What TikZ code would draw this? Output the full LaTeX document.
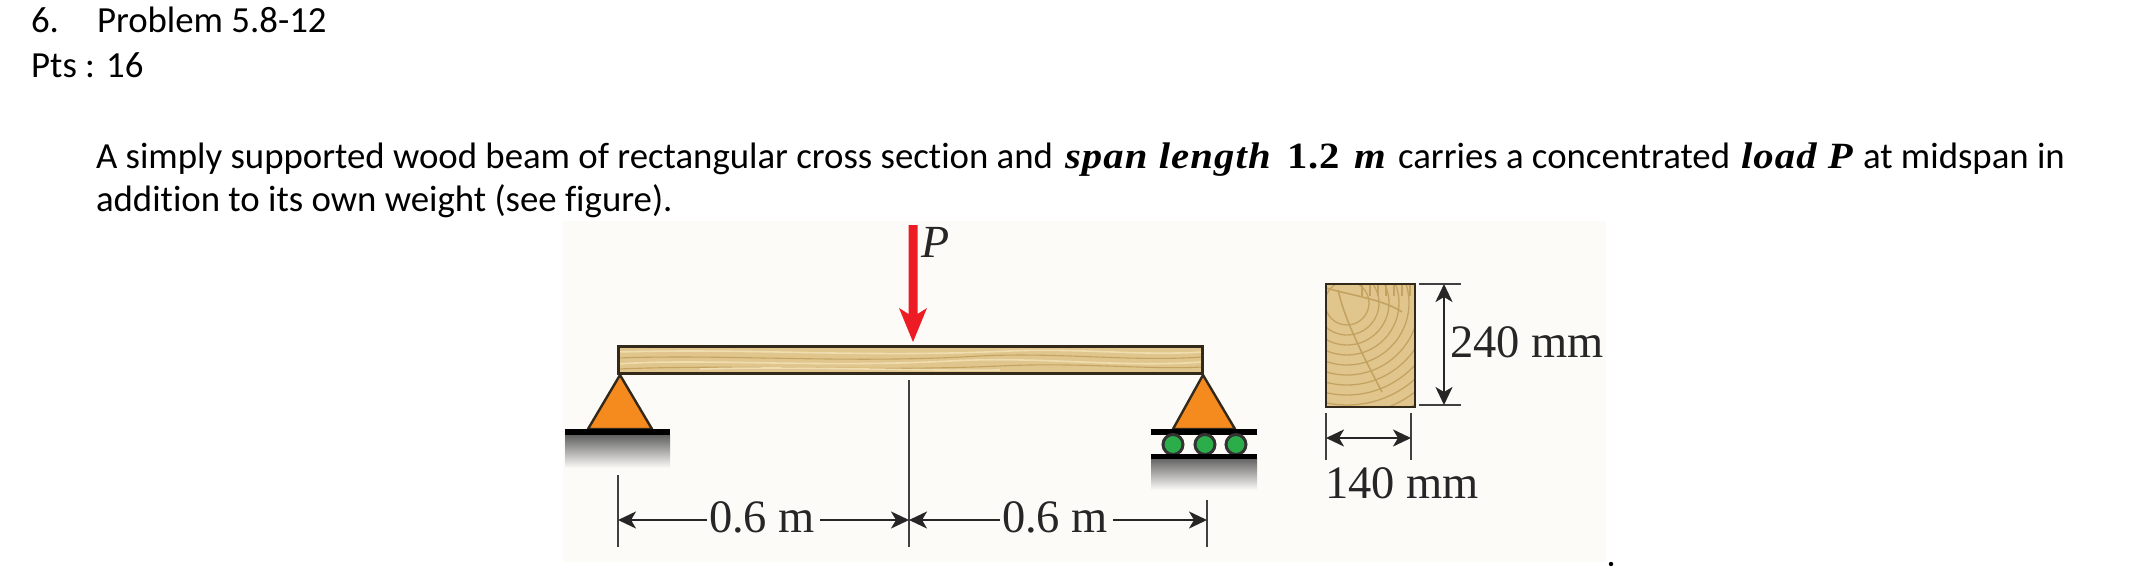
\documentclass[tikz,border=0pt]{standalone}
\usepackage{fontspec}
\usetikzlibrary{arrows.meta,calc}
\setmainfont{Carlito}[Ligatures=CommonOff]
\newfontfamily\figfont{Liberation Serif}
\newfontfamily\mathbi{Liberation Serif Bold Italic}[FakeStretch=1.1,LetterSpace=3]
\newfontfamily\mathbu{Liberation Serif Bold}[FakeStretch=1.1,LetterSpace=3]
\definecolor{figbg}{HTML}{FDFBF8}
\definecolor{wood}{HTML}{E0C68C}
\definecolor{woodlt}{HTML}{EFDDB0}
\definecolor{wooddk}{HTML}{C4A362}
\definecolor{edge}{HTML}{33291A}
\definecolor{sup}{HTML}{F58A1F}
\definecolor{roller}{HTML}{2BAE4A}
\definecolor{loadred}{HTML}{ED1C24}
\tikzset{
  x=1pt,y=-1pt,
  doc/.style={anchor=base west,inner sep=0pt,outer sep=0pt,font=\fontsize{36.8}{40}\selectfont},
  docbi/.style={doc,font=\mathbi\fontsize{37}{40}\selectfont},
  docbu/.style={doc,font=\mathbu\fontsize{37}{40}\selectfont},
  fig/.style={anchor=base west,inner sep=0pt,outer sep=0pt,text=black!85,font=\figfont\fontsize{46.5}{50}\selectfont},
  figit/.style={fig,font=\figfont\itshape\fontsize{46}{50}\selectfont},
  dim/.style={draw=black!85,line width=2.2pt,{Stealth[length=18pt,width=17pt,inset=5pt]}-{Stealth[length=18pt,width=17pt,inset=5pt]}},
  dimr/.style={draw=black!85,line width=2.2pt,-{Stealth[length=18pt,width=17pt,inset=5pt]}},
  dimline/.style={draw=black!75,line width=2pt},
  supp/.style={draw=edge,line width=2.4pt,fill=sup,line join=round},
  bar/.style={fill=black},
  rollerc/.style={draw=black!80,fill=roller,line width=3pt,circle,minimum size=20pt,inner sep=0pt},
  ground/.style={top color=black!62,bottom color=figbg,draw=none},
  grain/.style={draw=woodlt,line width=1.6pt},
  grainb/.style={draw=wooddk,line width=1.1pt},
  ring/.style={draw=wooddk,line width=1.3pt}
}
\begin{document}
\begin{tikzpicture}
\useasboundingbox (0,0) rectangle (2156,581);
% page text
\node[doc] (n6) at (31,32) {6.};
\node[doc] (prob) at (97,32) {Problem 5.8-12};
\node[doc] (pts) at (31,77) {Pts : 16};
\node[doc] (l1a) at (96,168) {A simply supported wood beam of rectangular cross section and};
\node[docbi] (l1b) at (1065,168) {span length};
\node[docbu] (l1c) at (1287,168) {1.2};
\node[docbi] (l1d) at (1354,168) {m};
\node[doc] (l1e) at (1398,168) {carries a concentrated};
\node[docbi] (l1f) at (1741,168) {load P};
\node[doc] (l1g) at (1863,168) {at midspan in};
\node[doc] (l2) at (96,211) {addition to its own weight (see figure).};
% figure background
\fill[figbg] (563,221) rectangle (1606,562);
\fill[black] (1611,564) circle (2.2);
% beam
\fill[wood] (618,346) rectangle (1202,373);
\begin{scope}
\clip (618,346) rectangle (1202,373);
\draw[grain] (618,352) .. controls (760,348) and (860,358) .. (1010,351) .. controls (1080,348) and (1140,356) .. (1202,352);
\draw[grain] (618,364) .. controls (700,358) and (820,368) .. (950,361) .. controls (1040,356) and (1120,368) .. (1202,362);
\draw[grainb] (618,358) .. controls (730,354) and (850,364) .. (980,356) .. controls (1060,352) and (1130,362) .. (1202,357);
\draw[grainb] (618,369) .. controls (740,364) and (860,372) .. (1000,366) .. controls (1080,362) and (1150,370) .. (1202,367);
\draw[grain] (700,369) .. controls (800,366) and (900,371) .. (1000,370);
\end{scope}
\draw[edge,line width=3pt] (618,346) rectangle (1202,373);
% left support
\fill[ground] (565,435) rectangle (670,468);
\draw[supp] (620,375) -- (588,429) -- (652,429) -- cycle;
\fill[bar] (565,428.5) rectangle (670,435);
% right support
\fill[ground] (1151,458) rectangle (1257,490);
\draw[supp] (1203,375) -- (1173,429) -- (1235,429) -- cycle;
\fill[bar] (1151,428.5) rectangle (1257,435);
\node[rollerc] (r1) at (1173,444.5) {};
\node[rollerc] (r2) at (1205,444.5) {};
\node[rollerc] (r3) at (1236,444.5) {};
\fill[bar] (1151,454) rectangle (1257,458.5);
% load
\fill[loadred] (908.5,225) -- (917.5,225) -- (917.5,314) -- (927,308) -- (913,342) -- (899,308) -- (908.5,314) -- cycle;
\node[figit] (P) at (921,257) {P};
% span dimensions
\coordinate (tl0) at (618,475); \coordinate (tl1) at (618,547);
\coordinate (tc0) at (909,380); \coordinate (tc1) at (909,547);
\coordinate (tr0) at (1207,500); \coordinate (tr1) at (1207,547);
\draw[dimline] (tl0) -- (tl1);
\draw[dimline] (tc0) -- (tc1);
\draw[dimline] (tr0) -- (tr1);
\node[fig] (d1) at (709,532) {0.6 m};
\node[fig] (d2) at (1002,532) {0.6 m};
\coordinate (a1) at (618,520); \coordinate (a2) at (707,520);
\coordinate (a3) at (820,520); \coordinate (a4) at (909,520);
\coordinate (a5) at (1000,520); \coordinate (a6) at (1113,520); \coordinate (a7) at (1207,520);
\draw[dimr] (a2) -- (a1);
\draw[dimr] (a3) -- (a4);
\draw[dimr] (a5) -- (a4);
\draw[dimr] (a6) -- (a7);
% cross section
\fill[wood] (1326,284) rectangle (1415,407);
\begin{scope}
\clip (1326,284) rectangle (1415,407);
\foreach \r in {22,32,...,122} {\draw[ring] (1347,303) circle (\r);}
\foreach \xx in {1362,1370,1378,1386,1394,1402,1410} {\draw[grainb] (\xx,284) -- (\xx,296);}
\draw[wooddk,line width=1.6pt] (1326,288) .. controls (1350,295) and (1385,300) .. (1402,312);
\draw[wooddk,line width=1.6pt] (1338,290) .. controls (1345,320) and (1360,350) .. (1382,392);
\end{scope}
\draw[edge,line width=2.8pt] (1326,284) rectangle (1415,407);
% section dimensions
\coordinate (v0) at (1419,284); \coordinate (v1) at (1461,284);
\coordinate (v2) at (1419,405); \coordinate (v3) at (1461,405);
\coordinate (va) at (1444,284); \coordinate (vb) at (1444,405);
\draw[dimline] (v0) -- (v1);
\draw[dimline] (v2) -- (v3);
\draw[dim] (va) -- (vb);
\node[fig] (d240) at (1450,357) {240 mm};
\coordinate (h0) at (1326,413); \coordinate (h1) at (1326,460);
\coordinate (h2) at (1411,413); \coordinate (h3) at (1411,460);
\coordinate (ha) at (1326,438); \coordinate (hb) at (1411,438);
\draw[dimline] (h0) -- (h1);
\draw[dimline] (h2) -- (h3);
\draw[dim] (ha) -- (hb);
\node[fig] (d140) at (1325,498) {140 mm};
\end{tikzpicture}
\end{document}
